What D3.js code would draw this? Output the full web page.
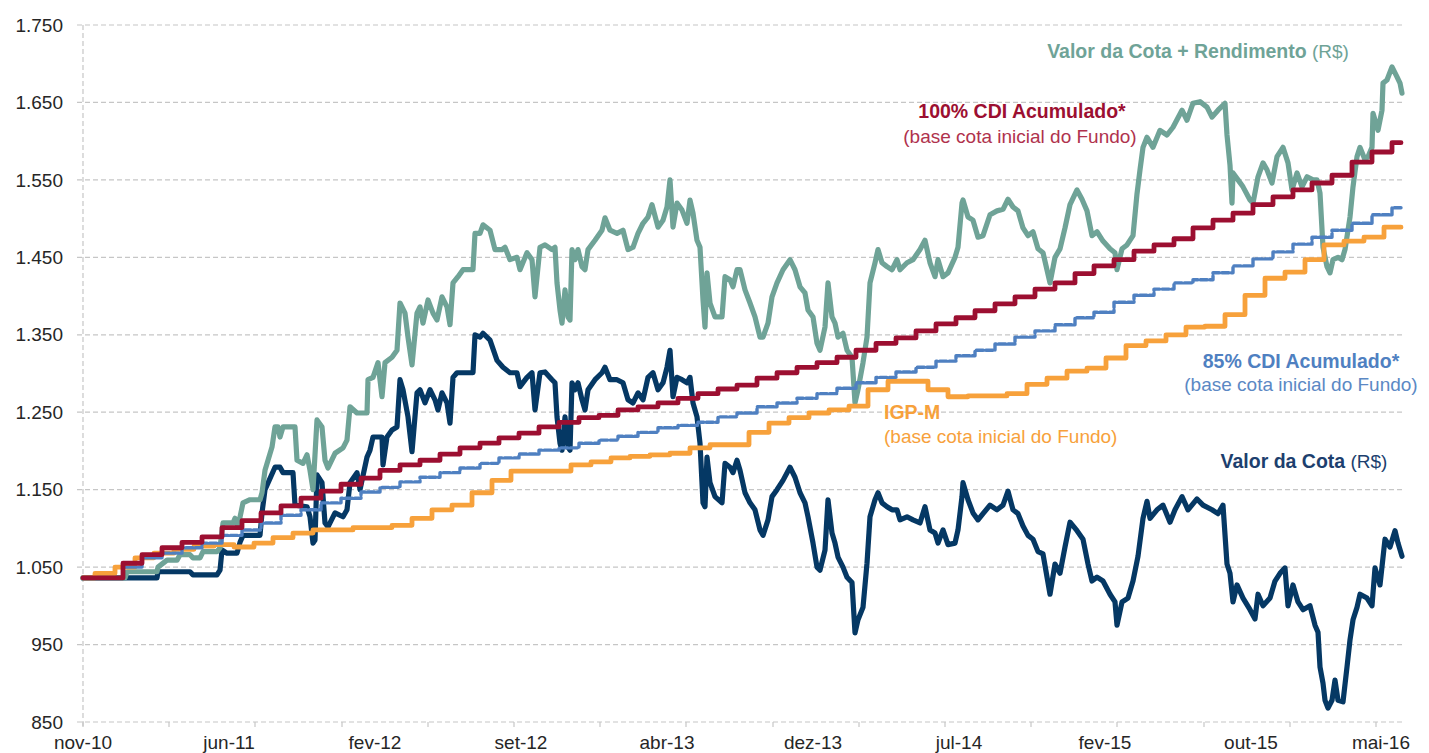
<!DOCTYPE html>
<html>
<head>
<meta charset="utf-8">
<script src="https://cdn.jsdelivr.net/npm/d3@7"></script>
<style>
  body { margin: 0; background: #fff; }
  svg { display: block; font-family: "Liberation Sans", Arial, sans-serif; }
</style>
</head>
<body>
<div id="chart"></div>
<script>
// Values.
// x is the row number of the daily series (label every 146 rows).
const xLabels = ["nov-10", "jun-11", "fev-12", "set-12", "abr-13", "dez-13", "jul-14", "fev-15", "out-15", "mai-16"];
const xLabelRows = [0, 146, 292, 438, 584, 730, 876, 1022, 1168, 1314];
const xTickRows = [0, 86, 172, 259, 345, 431, 517, 603, 690, 776, 862, 948, 1034, 1121, 1207, 1293];
const yTicks = [850, 950, 1050, 1150, 1250, 1350, 1450, 1550, 1650, 1750];
const lastRow = 1318;

// monthly benchmark series (value valid from that row on)
const monthRows = [0, 20, 40, 59, 79, 99, 119, 139, 159, 178, 198, 218, 238, 258, 278, 297, 317, 337, 357, 377,
  397, 416, 436, 456, 476, 496, 516, 535, 555, 575, 595, 615, 635, 654, 674, 694, 714, 734, 754, 773,
  793, 813, 833, 853, 873, 892, 912, 932, 952, 972, 992, 1011, 1031, 1051, 1071, 1091, 1110, 1130, 1150, 1170,
  1190, 1210, 1229, 1249, 1269, 1289, 1309];

const cdi100 = [1036, 1036, 1055, 1066, 1075, 1082, 1089, 1101, 1110, 1120, 1129, 1139, 1148, 1157, 1165, 1175, 1182, 1188, 1196, 1204,
  1210, 1217, 1223, 1231, 1237, 1243, 1246, 1253, 1257, 1262, 1268, 1274, 1280, 1285, 1294, 1301, 1308, 1314, 1321, 1330,
  1339, 1346, 1355, 1364, 1372, 1381, 1390, 1399, 1409, 1417, 1429, 1439, 1447, 1458, 1466, 1474, 1488, 1498, 1507, 1518,
  1528, 1537, 1546, 1556, 1573, 1586, 1598];

const cdi85 = [1036, 1036, 1050, 1062, 1068, 1075, 1081, 1091, 1098, 1107, 1117, 1124, 1133, 1139, 1147, 1153, 1160, 1166, 1172, 1178,
  1184, 1191, 1196, 1201, 1204, 1210, 1214, 1219, 1224, 1230, 1233, 1237, 1244, 1249, 1257, 1262, 1268, 1274, 1281, 1288,
  1295, 1302, 1308, 1316, 1323, 1330, 1338, 1347, 1355, 1363, 1372, 1379, 1392, 1401, 1409, 1417, 1421, 1430, 1439, 1448,
  1457, 1467, 1476, 1485, 1494, 1505, 1514];

const igpmRows = [0, 12, 32, 52, 71, 91, 111, 131, 151, 171, 190, 210, 230, 250, 270, 290, 309, 329, 349, 369,
  389, 409, 428, 448, 468, 488, 508, 528, 547, 567, 587, 607, 627, 647, 666, 686, 706, 726, 746, 766,
  785, 805, 825, 845, 865, 885, 904, 924, 944, 964, 984, 1004, 1023, 1043, 1063, 1083, 1103, 1122, 1142, 1162,
  1182, 1202, 1222, 1241, 1261, 1281, 1301];

const igpm = [1036, 1042, 1050, 1062, 1068, 1073, 1077, 1079, 1076, 1081, 1088, 1094, 1098, 1098, 1101, 1101, 1104, 1113, 1124, 1130,
  1146, 1162, 1174, 1174, 1174, 1182, 1186, 1191, 1193, 1195, 1197, 1204, 1208, 1208, 1224, 1236, 1243, 1249, 1253, 1258,
  1279, 1290, 1290, 1279, 1270, 1271, 1271, 1274, 1286, 1294, 1303, 1307, 1320, 1336, 1342, 1350, 1360, 1361, 1376, 1401,
  1423, 1431, 1447, 1466, 1471, 1476, 1489];

// daily fund series, [row, value]
const cotaRendimento = [[0,1036],[42,1036],[44,1044],[74,1044],[75,1050],[84,1059],[94,1059],[97,1066],[107,1066],[110,1062],
  [117,1062],[120,1070],[134,1070],[137,1075],[140,1107],[150,1107],[152,1113],[155,1102],[160,1133],[167,1137],
  [177,1137],[179,1146],[182,1175],[189,1205],[192,1231],[195,1231],[197,1218],[200,1231],[212,1231],[214,1188],
  [220,1184],[224,1195],[227,1175],[230,1150],[234,1240],[239,1231],[242,1188],[245,1178],[252,1197],[260,1204],
  [264,1214],[267,1257],[274,1249],[284,1249],[285,1292],[290,1295],[295,1314],[299,1270],[302,1314],[309,1321],
  [314,1330],[317,1391],[322,1378],[325,1347],[329,1311],[334,1378],[337,1386],[340,1365],[345,1395],[350,1378],
  [354,1369],[359,1399],[364,1386],[367,1363],[370,1417],[375,1425],[380,1434],[390,1434],[392,1481],[397,1481],
  [400,1492],[407,1485],[412,1460],[419,1460],[422,1463],[427,1447],[434,1450],[437,1434],[444,1456],[449,1447],
  [452,1399],[457,1463],[462,1466],[469,1460],[472,1463],[474,1417],[477,1382],[479,1365],[482,1408],[485,1373],
  [487,1369],[489,1460],[492,1447],[495,1460],[499,1438],[502,1434],[505,1460],[512,1472],[519,1485],[522,1501],
  [527,1485],[534,1481],[540,1485],[545,1460],[550,1463],[555,1481],[560,1494],[565,1502],[569,1518],[575,1489],
  [580,1498],[584,1515],[587,1550],[590,1489],[594,1520],[599,1511],[604,1494],[607,1524],[610,1507],[614,1472],
  [617,1463],[620,1395],[622,1360],[624,1430],[627,1391],[632,1373],[639,1373],[642,1425],[647,1421],[650,1412],
  [654,1434],[657,1434],[662,1408],[667,1391],[672,1373],[677,1347],[680,1347],[685,1365],[689,1399],[694,1417],
  [700,1434],[707,1447],[712,1434],[717,1412],[722,1404],[725,1382],[730,1373],[734,1339],[737,1330],[742,1360],
  [745,1417],[749,1373],[752,1365],[755,1347],[760,1352],[764,1330],[769,1321],[772,1262],[775,1279],[780,1314],
  [784,1347],[787,1417],[792,1443],[795,1460],[799,1443],[804,1438],[809,1434],[814,1447],[817,1434],[824,1443],
  [830,1447],[837,1460],[842,1472],[847,1443],[852,1425],[855,1447],[860,1425],[865,1430],[872,1450],[875,1463],
  [879,1520],[880,1524],[885,1502],[890,1498],[895,1476],[900,1478],[907,1505],[914,1510],[920,1512],[925,1525],
  [930,1515],[935,1510],[940,1488],[945,1478],[950,1483],[955,1461],[960,1456],[967,1417],[972,1450],[977,1461],
  [982,1488],[987,1518],[994,1537],[999,1525],[1004,1510],[1009,1478],[1014,1483],[1020,1471],[1027,1461],[1032,1456],
  [1034,1434],[1039,1461],[1044,1466],[1050,1478],[1054,1532],[1057,1563],[1060,1592],[1064,1605],[1070,1592],[1077,1614],
  [1084,1608],[1090,1618],[1099,1640],[1104,1627],[1110,1649],[1117,1651],[1124,1644],[1129,1631],[1135,1640],[1142,1649],
  [1144,1608],[1147,1569],[1149,1520],[1150,1559],[1155,1550],[1160,1541],[1167,1524],[1170,1520],[1175,1554],[1180,1572],
  [1184,1563],[1189,1546],[1194,1580],[1200,1592],[1205,1572],[1209,1537],[1214,1559],[1219,1541],[1224,1554],[1230,1550],
  [1234,1550],[1237,1533],[1240,1463],[1244,1438],[1247,1430],[1250,1447],[1255,1450],[1259,1447],[1262,1460],[1267,1502],
  [1270,1541],[1274,1580],[1277,1592],[1282,1576],[1285,1580],[1289,1592],[1290,1636],[1295,1614],[1299,1640],[1300,1675],
  [1304,1679],[1309,1696],[1314,1683],[1317,1675],[1319,1662]];

const valorCota = [[0,1036],[74,1036],[75,1044],[107,1044],[110,1040],[134,1040],[137,1046],[139,1072],[144,1068],[154,1068],
  [157,1082],[160,1091],[177,1091],[179,1120],[182,1150],[192,1179],[197,1179],[200,1172],[210,1172],[212,1130],
  [224,1128],[227,1115],[230,1081],[232,1085],[234,1169],[239,1159],[242,1107],[245,1102],[252,1120],[260,1115],
  [264,1124],[267,1159],[274,1172],[277,1150],[284,1192],[287,1201],[290,1218],[299,1218],[300,1182],[304,1218],
  [309,1227],[314,1231],[317,1292],[320,1279],[325,1244],[329,1199],[334,1275],[337,1279],[342,1262],[347,1279],
  [352,1266],[355,1253],[359,1275],[364,1262],[367,1236],[370,1295],[374,1301],[390,1301],[392,1350],[397,1347],
  [400,1352],[407,1343],[414,1317],[420,1308],[427,1301],[434,1301],[437,1283],[444,1295],[449,1301],[452,1253],
  [457,1301],[462,1302],[469,1292],[472,1288],[474,1244],[477,1210],[479,1201],[482,1244],[485,1205],[487,1201],
  [489,1288],[492,1279],[495,1288],[499,1266],[502,1253],[505,1279],[512,1292],[519,1301],[522,1308],[527,1292],
  [534,1292],[540,1288],[545,1266],[550,1262],[555,1275],[560,1266],[565,1295],[570,1301],[575,1279],[580,1288],
  [584,1308],[587,1330],[590,1270],[594,1295],[599,1292],[604,1288],[607,1295],[610,1262],[614,1244],[617,1210],
  [620,1133],[622,1128],[624,1192],[627,1159],[632,1141],[639,1133],[642,1184],[647,1179],[650,1172],[654,1188],
  [657,1175],[662,1146],[667,1133],[672,1124],[677,1098],[680,1091],[685,1111],[689,1141],[694,1150],[700,1162],
  [707,1179],[712,1166],[717,1146],[722,1133],[725,1115],[730,1081],[734,1050],[737,1046],[742,1072],[745,1137],
  [749,1094],[752,1081],[755,1063],[760,1050],[764,1037],[769,1030],[772,965],[775,982],[780,998],[784,1055],
  [787,1115],[792,1137],[795,1146],[799,1133],[804,1128],[809,1124],[814,1124],[817,1111],[824,1115],[830,1111],
  [837,1107],[842,1128],[847,1098],[852,1094],[855,1081],[860,1098],[865,1079],[872,1081],[875,1098],[879,1141],
  [880,1159],[885,1137],[890,1120],[895,1111],[900,1119],[907,1130],[914,1124],[920,1130],[925,1148],[930,1124],
  [935,1119],[940,1103],[945,1091],[950,1086],[955,1070],[960,1067],[967,1015],[972,1054],[977,1042],[982,1076],
  [987,1108],[994,1097],[1000,1086],[1005,1054],[1009,1032],[1014,1037],[1020,1032],[1027,1015],[1032,1005],[1034,975],
  [1039,1005],[1045,1010],[1050,1032],[1055,1064],[1060,1113],[1064,1135],[1067,1113],[1074,1124],[1080,1130],[1087,1108],
  [1092,1124],[1099,1141],[1105,1124],[1114,1138],[1120,1130],[1129,1124],[1135,1119],[1140,1130],[1144,1054],[1147,1042],
  [1150,1005],[1154,1027],[1160,1010],[1167,995],[1172,983],[1175,1015],[1180,1000],[1187,1010],[1192,1032],[1197,1042],
  [1202,1049],[1205,1000],[1210,1027],[1215,1005],[1220,995],[1227,1000],[1232,975],[1235,966],[1237,921],[1240,900],
  [1242,878],[1245,868],[1249,878],[1252,904],[1255,878],[1260,876],[1264,921],[1267,956],[1270,982],[1274,998],
  [1277,1015],[1284,1010],[1289,1000],[1292,1049],[1297,1027],[1302,1086],[1307,1076],[1312,1097],[1315,1081],[1319,1064]];

document.addEventListener("DOMContentLoaded", function() {

  const width = 1429;
  const height = 753;

  const x = d3.scaleLinear().domain([0, 1320]).range([83, 1403]);
  const y = d3.scaleLinear().domain([850, 1750]).range([722, 25]);

  const ptBR = d3.formatLocale({decimal: ",", thousands: ".", grouping: [3], currency: ["R$", ""]});
  const fmt = ptBR.format(",");

  const svg = d3.select("#chart").append("svg")
      .attr("width", width)
      .attr("height", height)
      .attr("viewBox", [0, 0, width, height]);

  // horizontal grid + y labels
  const gy = svg.append("g");
  gy.selectAll("line")
    .data(yTicks)
    .join("line")
      .attr("x1", 77)
      .attr("x2", x.range()[1])
      .attr("y1", d => y(d))
      .attr("y2", d => y(d))
      .attr("stroke", "#c6c6c6")
      .attr("stroke-width", 1.2)
      .attr("stroke-dasharray", "5,3");
  gy.selectAll("text")
    .data(yTicks)
    .join("text")
      .attr("x", 63)
      .attr("y", d => y(d))
      .attr("dy", "0.35em")
      .attr("text-anchor", "end")
      .attr("font-size", 19)
      .attr("fill", "#262626")
      .text(d => fmt(d));

  // y axis line (dashed)
  svg.append("line")
      .attr("x1", x(0)).attr("x2", x(0))
      .attr("y1", y(1750)).attr("y2", y(850) + 5)
      .attr("stroke", "#c6c6c6")
      .attr("stroke-width", 1.2)
      .attr("stroke-dasharray", "5,3");

  // x tick marks and labels
  svg.append("g").selectAll("line")
    .data(xTickRows)
    .join("line")
      .attr("x1", d => x(d)).attr("x2", d => x(d))
      .attr("y1", y(850)).attr("y2", y(850) + 5)
      .attr("stroke", "#c6c6c6")
      .attr("stroke-width", 1.2);

  svg.append("g").selectAll("text")
    .data(xLabels)
    .join("text")
      .attr("x", (d, i) => x(xLabelRows[i]))
      .attr("y", 749)
      .attr("text-anchor", "middle")
      .attr("font-size", 19)
      .attr("fill", "#262626")
      .text(d => d)
      .each(function() {
        // keep the last label inside the frame, like the spreadsheet does
        const b = this.getBBox();
        const over = b.x + b.width - 1410;
        if (over > 0) d3.select(this).attr("x", +d3.select(this).attr("x") - over);
      });

  // lines
  const linear = d3.line().x(d => x(d[0])).y(d => y(d[1]));
  const step = d3.line().curve(d3.curveStepAfter).x(d => x(d[0])).y(d => y(d[1]));

  function stepped(rows, vals) {
    const pts = rows.map((r, i) => [r, vals[i]]);
    pts.push([lastRow, vals[vals.length - 1]]);
    return pts;
  }

  const series = [
    {data: valorCota, gen: linear, color: "#053864", w: 5.2},
    {data: cotaRendimento, gen: linear, color: "#6fa397", w: 5.2},
    {data: stepped(igpmRows, igpm), gen: step, color: "#f7a13b", w: 4.8},
    {data: stepped(monthRows, cdi85), gen: step, color: "#4f80c1", w: 3.4, dash: "7,2.5"},
    {data: stepped(monthRows, cdi100), gen: step, color: "#9c0f31", w: 4.8}
  ];

  svg.append("g").selectAll("path")
    .data(series)
    .join("path")
      .attr("fill", "none")
      .attr("stroke", d => d.color)
      .attr("stroke-width", d => d.w)
      .attr("stroke-linejoin", "round")
      .attr("stroke-linecap", "round")
      .attr("stroke-dasharray", d => d.dash || null)
      .attr("d", d => d.gen(d.data));

  // series labels
  function label(xPos, yPos, anchor, color, bold, light) {
    const t = svg.append("text")
        .attr("x", xPos)
        .attr("y", yPos)
        .attr("text-anchor", anchor)
        .attr("fill", color);
    t.append("tspan").attr("font-weight", "bold").attr("font-size", 19.5).text(bold);
    if (light) t.append("tspan").attr("font-size", 19).text(light);
  }

  label(1198, 58, "middle", "#6fa397", "Valor da Cota + Rendimento", " (R$)");
  label(1022, 118, "middle", "#9c0f31", "100% CDI Acumulado*");
  label(1020, 143, "middle", "#b0324d", null, "(base cota inicial do Fundo)");
  label(1301, 368, "middle", "#4f80c1", "85% CDI Acumulado*");
  label(1301, 391, "middle", "#5b88c4", null, "(base cota inicial do Fundo)");
  label(884, 419, "start", "#f7a13b", "IGP-M");
  label(884, 443, "start", "#f7a13b", null, "(base cota inicial do Fundo)");
  label(1304, 468, "middle", "#1d3f6e", "Valor da Cota", " (R$)");
});
</script>
</body>
</html>
